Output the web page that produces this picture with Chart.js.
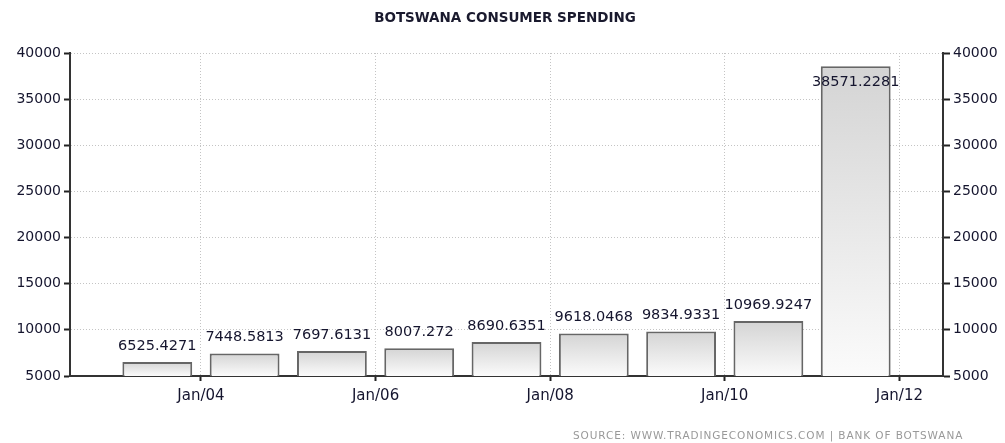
<!DOCTYPE html>
<html>
<head>
<meta charset="utf-8">
<title>Botswana Consumer Spending</title>
<script src="https://cdn.jsdelivr.net/npm/chart.js"></script>
<style>
    html, body { margin: 0; padding: 0; background: #fff; }
    #wrap { position: relative; width: 1005px; height: 443px; }
    #source {
        position: absolute; left: 573px; top: 429px;
        font-family: 'DejaVu Sans', Verdana, sans-serif; font-size: 10.5px;
        letter-spacing: 0.9px; color: #999; white-space: nowrap;
    }
</style>
</head>
<body>
<div id="wrap">
    <canvas id="chart" width="1005" height="443"></canvas>
    <div id="source">SOURCE: WWW.TRADINGECONOMICS.COM | BANK OF BOTSWANA</div>
</div>
<script>
// Annual consumer spending, plotted mid-year
const years = [2003, 2004, 2005, 2006, 2007, 2008, 2009, 2010, 2011];
const spending = [6525.4271, 7448.5813, 7697.6131, 8007.272, 8690.6351, 9618.0468, 9834.9331, 10969.9247, 38571.2281];
const valueLabels = ['6525.4271', '7448.5813', '7697.6131', '8007.272', '8690.6351', '9618.0468', '9834.9331', '10969.9247', '38571.2281'];
const xTickYears = [2004, 2006, 2008, 2010, 2012];
const yTicks = [5000, 10000, 15000, 20000, 25000, 30000, 35000, 40000];

const FONT = "'DejaVu Sans', Verdana, sans-serif";
const INK = '#15152e';

const points = years.map((y, i) => ({ x: y + 0.5, y: spending[i] }));

function barFill(ctx) {
    const chart = ctx.chart;
    if (!chart.chartArea || ctx.type !== 'data') return '#e8e8e8';
    const yScale = chart.scales.y;
    const top = yScale.getPixelForValue(ctx.raw.y);
    const bottom = yScale.getPixelForValue(yScale.min);
    const g = chart.ctx.createLinearGradient(0, top, 0, bottom);
    g.addColorStop(0, '#d4d4d4');
    g.addColorStop(1, '#fbfbfb');
    return g;
}

// title and value labels
const decorations = {
    id: 'decorations',
    afterDatasetsDraw(chart) {
        const c = chart.ctx;
        const area = chart.chartArea;
        c.save();
        c.fillStyle = '#1a1a2e';
        c.font = 'bold 13.5px ' + FONT;
        c.textAlign = 'center';
        c.textBaseline = 'middle';
        c.fillText('BOTSWANA CONSUMER SPENDING', 505, 18);

        c.font = '14.5px ' + FONT;
        c.fillStyle = INK;
        const meta = chart.getDatasetMeta(0);
        meta.data.forEach((bar, i) => {
            let y = bar.y - 16;
            if (y < area.top + 8) y = bar.y + 16;
            c.fillText(valueLabels[i], bar.x, y);
        });
        c.restore();
    }
};

const yAxisCommon = {
    min: 5000,
    max: 40000,
    afterBuildTicks(scale) { scale.ticks = yTicks.map(v => ({ value: v })); },
    ticks: { color: INK, font: { family: FONT, size: 14 }, padding: 3, callback: v => String(v) },
    border: { display: true, color: '#333', width: 2 }
};

new Chart(document.getElementById('chart'), {
    type: 'bar',
    data: {
        datasets: [{
            data: points,
            backgroundColor: barFill,
            borderColor: '#666',
            borderWidth: 2,
            borderSkipped: 'bottom',
            barPercentage: 0.8,
            categoryPercentage: 1.0
        }]
    },
    options: {
        responsive: false,
        animation: false,
        layout: { padding: { top: 53, left: 0, right: 0, bottom: 0 } },
        plugins: { legend: { display: false }, tooltip: { enabled: false }, title: { display: false } },
        scales: {
            x: {
                type: 'linear',
                min: 2002.5,
                max: 2012.5,
                offset: false,
                afterBuildTicks(scale) { scale.ticks = xTickYears.map(v => ({ value: v })); },
                afterFit(scale) { scale.height = 67; },
                ticks: {
                    color: INK, font: { family: FONT, size: 15 }, padding: 6, maxRotation: 0,
                    callback: v => 'Jan/' + String(v).slice(2)
                },
                grid: { offset: false, color: '#c4c4c4', tickColor: '#222', tickLength: 5, tickWidth: 2 },
                border: { display: true, color: '#333', width: 2, dash: [1, 2] }
            },
            y: Object.assign({}, yAxisCommon, {
                position: 'left',
                afterFit(scale) { scale.width = 70; },
                grid: { color: '#c4c4c4', tickColor: '#222', tickLength: 6, tickWidth: 2 },
                border: { display: true, color: '#333', width: 2, dash: [1, 2] }
            }),
            y2: Object.assign({}, yAxisCommon, {
                position: 'right',
                afterFit(scale) { scale.width = 62; },
                grid: { drawOnChartArea: false, color: '#222', tickColor: '#222', tickLength: 7, tickWidth: 2 }
            })
        }
    },
    plugins: [decorations]
});
</script>
</body>
</html>
